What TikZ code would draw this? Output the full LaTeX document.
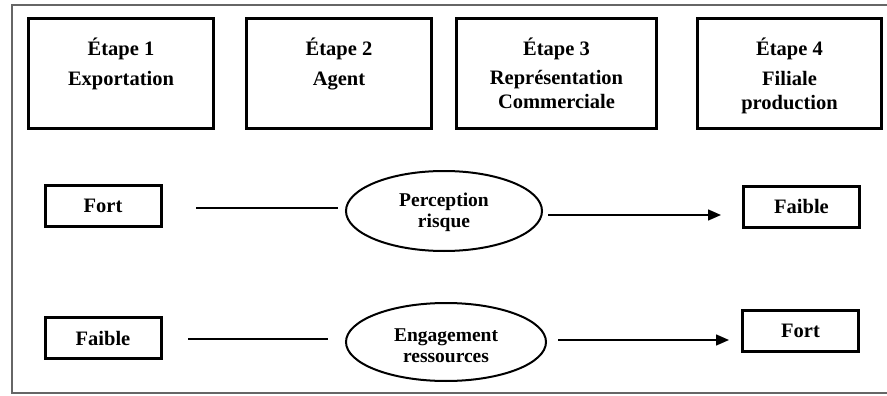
\documentclass[tikz,border=0pt]{standalone}
\usepackage{fontspec}
\setmainfont{Liberation Serif}
\usetikzlibrary{arrows.meta,shapes.geometric}

\tikzset{
  stagebox/.style={draw=black, line width=3pt, rectangle, inner sep=0pt,
    text height=37.5pt, text depth=72.5pt,
    font=\bfseries\fontsize{20.5}{24}\selectfont},
  levelbox/.style={draw=black, line width=3pt, rectangle, inner sep=0pt,
    minimum width=116pt, minimum height=41pt,
    font=\bfseries\fontsize{20.5}{24}\selectfont},
  factor/.style={draw=black, line width=2pt, ellipse, inner sep=0pt,
    font=\bfseries\fontsize{19.5}{21}\selectfont},
  link/.style={draw=black, line width=1.5pt},
  flow/.style={link, -{Triangle[length=13pt,width=11pt]}},
  frame/.style={draw=black!60, line width=1.4pt}
}

\newcommand{\lines}[1]{\begin{tabular}[t]{@{}c@{}}#1\end{tabular}}

\begin{document}
\begin{tikzpicture}[x=1pt, y=-1pt]
  \useasboundingbox (0,0) rectangle (887,396);
  \fill[white] (0,0) rectangle (887,396);
  \draw[frame] (12,5) rectangle (891,393);

  % stages of internationalisation
  \node[stagebox, minimum width=185pt] (s1) at (121,73.5)
    {\lines{Étape 1\\[6pt]Exportation}};
  \node[stagebox, minimum width=185pt] (s2) at (339,73.5)
    {\lines{Étape 2\\[6pt]Agent}};
  \node[stagebox, minimum width=200pt] (s3) at (556.5,73.5)
    {\lines{Étape 3\\[4.5pt]Représentation\\Commerciale}};
  \node[stagebox, minimum width=184pt] (s4) at (789.5,73.5)
    {\lines{Étape 4\\[6pt]Filiale\\production}};

  % perceived risk
  \node[levelbox] (fortL) at (103,206) {Fort};
  \node[factor, minimum width=196pt, minimum height=80pt,
        text height=15pt, text depth=23.6pt] (e1) at (444,211)
    {\lines{Perception\\risque}};
  \node[levelbox] (faibleR) at (801.5,206.5) {Faible};

  % resource commitment
  \node[levelbox] (faibleL) at (103,338) {Faible};
  \node[factor, minimum width=200pt, minimum height=78pt,
        text height=15pt, text depth=15.6pt] (e2) at (446,342)
    {\lines{Engagement\\ressources}};
  \node[levelbox] (fortR) at (800.5,330.5) {Fort};

  % connectors
  \draw[link, shorten <=33.5pt, shorten >=7pt]
    ([yshift=-2pt]fortL.east) -- ([yshift=3pt]e1.west);
  \draw[flow, shorten <=5pt, shorten >=21pt]
    ([yshift=-4pt]e1.east) -- ([yshift=-8.5pt]faibleR.west);
  \draw[link, shorten <=25.5pt, shorten >=17pt]
    ([yshift=-1pt]faibleL.east) -- ([yshift=3pt]e2.west);
  \draw[flow, shorten <=11pt, shorten >=12pt]
    ([yshift=2pt]e2.east) -- ([yshift=-9.5pt]fortR.west);
\end{tikzpicture}
\end{document}
